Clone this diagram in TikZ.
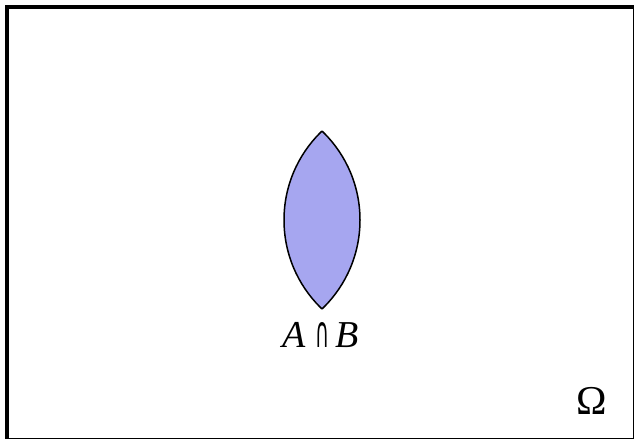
\documentclass[tikz,border=0pt]{standalone}
\usepackage{fontspec}
\usepackage{graphicx}
\setmainfont{Liberation Serif}
\newfontfamily\capfont{DejaVu Sans}
\definecolor{lensfill}{RGB}{166,166,240}
\tikzset{
  thickedge/.style={line width=4pt},
  thinedge/.style={line width=1.3pt},
  lensline/.style={line width=1.5pt, draw=black},
  label/.style={inner sep=0pt, anchor=base}
}
\begin{document}
\begin{tikzpicture}[x=1pt,y=-1pt]
\useasboundingbox[fill=white] (0,0) rectangle (635,440);
% frame
\draw[thickedge] (7,5) -- (7,439);
\draw[thickedge] (5,7) -- (634,7);
\draw[thinedge] (633.5,5) -- (633.5,439);
\draw[thinedge] (5,438.5) -- (634,438.5);
% lens (intersection of two circles)
\begin{scope}
  \clip (407.2,220) circle[radius=123.2];
  \fill[lensfill] (236.8,220) circle[radius=123.2];
  \draw[lensline] (236.8,220) circle[radius=123.2];
\end{scope}
\begin{scope}
  \clip (236.8,220) circle[radius=123.2];
  \draw[lensline] (407.2,220) circle[radius=123.2];
\end{scope}
% labels
\node[label, font=\fontsize{38}{44}\selectfont] (ab) at (320.5,347)
  {\textit{A}\hspace{9pt}\resizebox{14pt}{25pt}{\capfont ∩}\hspace{6pt}\textit{B}};
\node[label, font=\fontsize{41}{46}\selectfont] (omega) at (592,414) {Ω};
\end{tikzpicture}
\end{document}
